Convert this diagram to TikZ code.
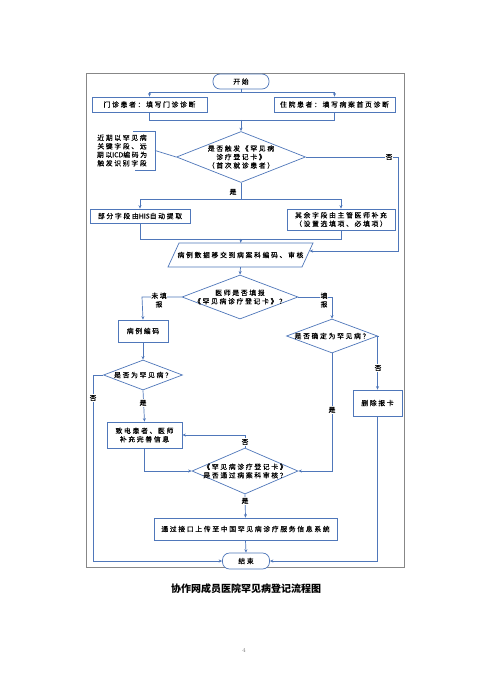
\documentclass[tikz,border=0pt]{standalone}
\usepackage{fontspec}
\newfontfamily\cjk{Noto Sans CJK SC}
\newfontfamily\cjks[LetterSpace=25,FakeBold=0.4]{Noto Sans CJK SC}
\newfontfamily\latn[FakeBold=0.4]{Noto Sans CJK SC}
\usetikzlibrary{shapes.geometric,arrows.meta}
\definecolor{lb}{RGB}{79,119,186}
\definecolor{fr}{RGB}{135,135,135}
\begin{document}
\begin{tikzpicture}[x=1pt,y=-1pt,
 every node/.style={font=\cjks\fontsize{6.8}{8.5}\selectfont, text=black, align=center},
 ln/.style={draw=lb,line width=0.7pt},
 ar/.style={ln,-{Stealth[length=3.5pt,width=3pt]}},
 box/.style={draw=lb,line width=0.7pt,fill=white,rectangle,inner sep=0pt},
 dia/.style={draw=lb,line width=0.7pt,fill=white,diamond,inner sep=0pt},
 term/.style={draw=lb,line width=0.7pt,fill=white,rectangle,rounded corners=7pt,inner sep=0pt},
 lab/.style={fill=white,inner sep=0.6pt}]
\useasboundingbox (0,0) rectangle (488,698);
\fill[white] (0,0) rectangle (488,698);
\draw[fr,line width=0.8pt] (86,73) rectangle (404,567);

% nodes
\node[term, minimum width=56pt, minimum height=15pt] (start) at (241,81.5) {开始};
\node[box, minimum width=115pt, minimum height=15pt] (A) at (149.5,104.5) {门诊患者：填写门诊诊断};
\node[box, minimum width=121pt, minimum height=15pt] (B) at (334.5,104.5) {住院患者：填写病案首页诊断};
\node[dia, minimum width=129pt, minimum height=51pt] (D1) at (241,157) {};
\node (D1t) at (D1) {是否触发《罕见病\\诊疗登记卡》\\（首次就诊患者）};
\node (N) at (122,150.5) {近期以罕见病\\关键字段、远\\期以{\latn ICD}编码为\\触发识别字段};
\draw[ln] (133,131) -- (155,131) -- (155,170) -- (135,170);
\coordinate (nb) at (155,150.5);
\node[box, minimum width=100pt, minimum height=14pt] (C) at (140,216) {部分字段由{\latn HIS}自动提取};
\node[box, minimum width=108pt, minimum height=21pt] (D) at (341,219.5) {其余字段由主管医师补充\\（设置选填项、必填项）};
\draw[ln,fill=white] (179,243) -- (313,243) -- (302,267) -- (168,267) -- cycle;
\node[minimum width=134pt, minimum height=24pt, inner sep=0pt] (P) at (240.5,255) {病例数据移交到病案科编码、审核};
\coordinate (Pr) at (309.5,251);
\node[dia, minimum width=116pt, minimum height=44pt] (D2) at (240,297) {};
\node (D2t) at (D2) {医师是否填报\\《罕见病诊疗登记卡》？};
\node[box, minimum width=50pt, minimum height=22pt] (E) at (143,331) {病例编码};
\node[dia, minimum width=91pt, minimum height=34pt] (D3) at (332,336) {};
\node (D3t) at (D3) {是否确定为罕见病？};
\node[dia, minimum width=79pt, minimum height=30pt] (D4) at (143,375) {};
\node (D4t) at (D4) {是否为罕见病？};
\node[box, minimum width=49pt, minimum height=26pt] (G) at (377.5,403) {删除报卡};
\node[box, minimum width=75pt, minimum height=26pt] (F) at (144.5,435) {致电患者、医师\\补充完善信息};
\node[dia, minimum width=106pt, minimum height=46pt] (D5) at (245,471) {};
\node (D5t) at (D5) {《罕见病诊疗登记卡》\\是否通过病案科审核？};
\node[box, minimum width=183pt, minimum height=22pt] (H) at (245.5,529) {通过接口上传至中国罕见病诊疗服务信息系统};
\node[term, minimum width=47pt, minimum height=16pt] (end) at (246,561) {结束};

\coordinate (s1) at (241,92);
\coordinate (m1) at (241,120);
\coordinate (s2) at (241,199);
\coordinate (m2) at (241,239);
\coordinate (c1) at (398,157);
\coordinate (c2) at (142,297);
\coordinate (c3) at (332,297);
\coordinate (c4) at (93,375);

% connectors
\draw[ln] (start.south) -- (s1);
\draw[ar] (s1) -| (A.north);
\draw[ar] (s1) -| (B.north);
\draw[ln] (A.south) |- (m1);
\draw[ln] (B.south) |- (m1);
\draw[ar] (m1) -- (D1.north);
\draw[ln] (nb) -- (D1.west);
\draw[ln] (D1.south) -- (s2);
\draw[ar] (s2) -| (C.north);
\draw[ar] (s2) -| (D.north);
\draw[ln] (C.south) |- (m2);
\draw[ln] (D.south) |- (m2);
\draw[ar] (m2) -- (P.north);
\draw[ar] (D1.east) -- (c1) |- (Pr);
\draw[ar] (P.south) -- (D2.north);
\draw[ar] (D2.west) -- (c2) -- (E.north);
\draw[ar] (D2.east) -- (c3) -- (D3.north);
\draw[ar] (E.south) -- (D4.north);
\draw[ar] (D4.west) -- (c4) |- (end.west);
\draw[ar] (D4.south) -- (F.north);
\draw[ar] (D3.east) -| (G.north);
\draw[ar] (G.south) |- (end.east);
\draw[ar] (D3.south) |- (D5.east);
\draw[ar] (F.south) |- (D5.west);
\draw[ar] (D5.north) |- (F.east);
\draw[ar] (D5.south) -- (H.north);
\draw[ar] (H.south) -- (end.north);

% labels
\node[lab] at (389,157) {否};
\node at (233,192) {是};
\node[lab] at (159,300) {未填\\报};
\node[lab] at (324,300) {填\\报};
\node[lab] at (93,398) {否};
\node[lab] at (143,403) {是};
\node[lab] at (378,368) {否};
\node[lab] at (332,410) {是};
\node[lab] at (245,442) {否};
\node[lab] at (245,501) {是};

\node[font=\cjk\bfseries\fontsize{10}{12}\selectfont] (cap) at (246,589) {协作网成员医院罕见病登记流程图};
\node[font=\rmfamily\fontsize{6}{7}\selectfont, text=gray] (pg) at (244,650) {4};
\end{tikzpicture}
\end{document}
